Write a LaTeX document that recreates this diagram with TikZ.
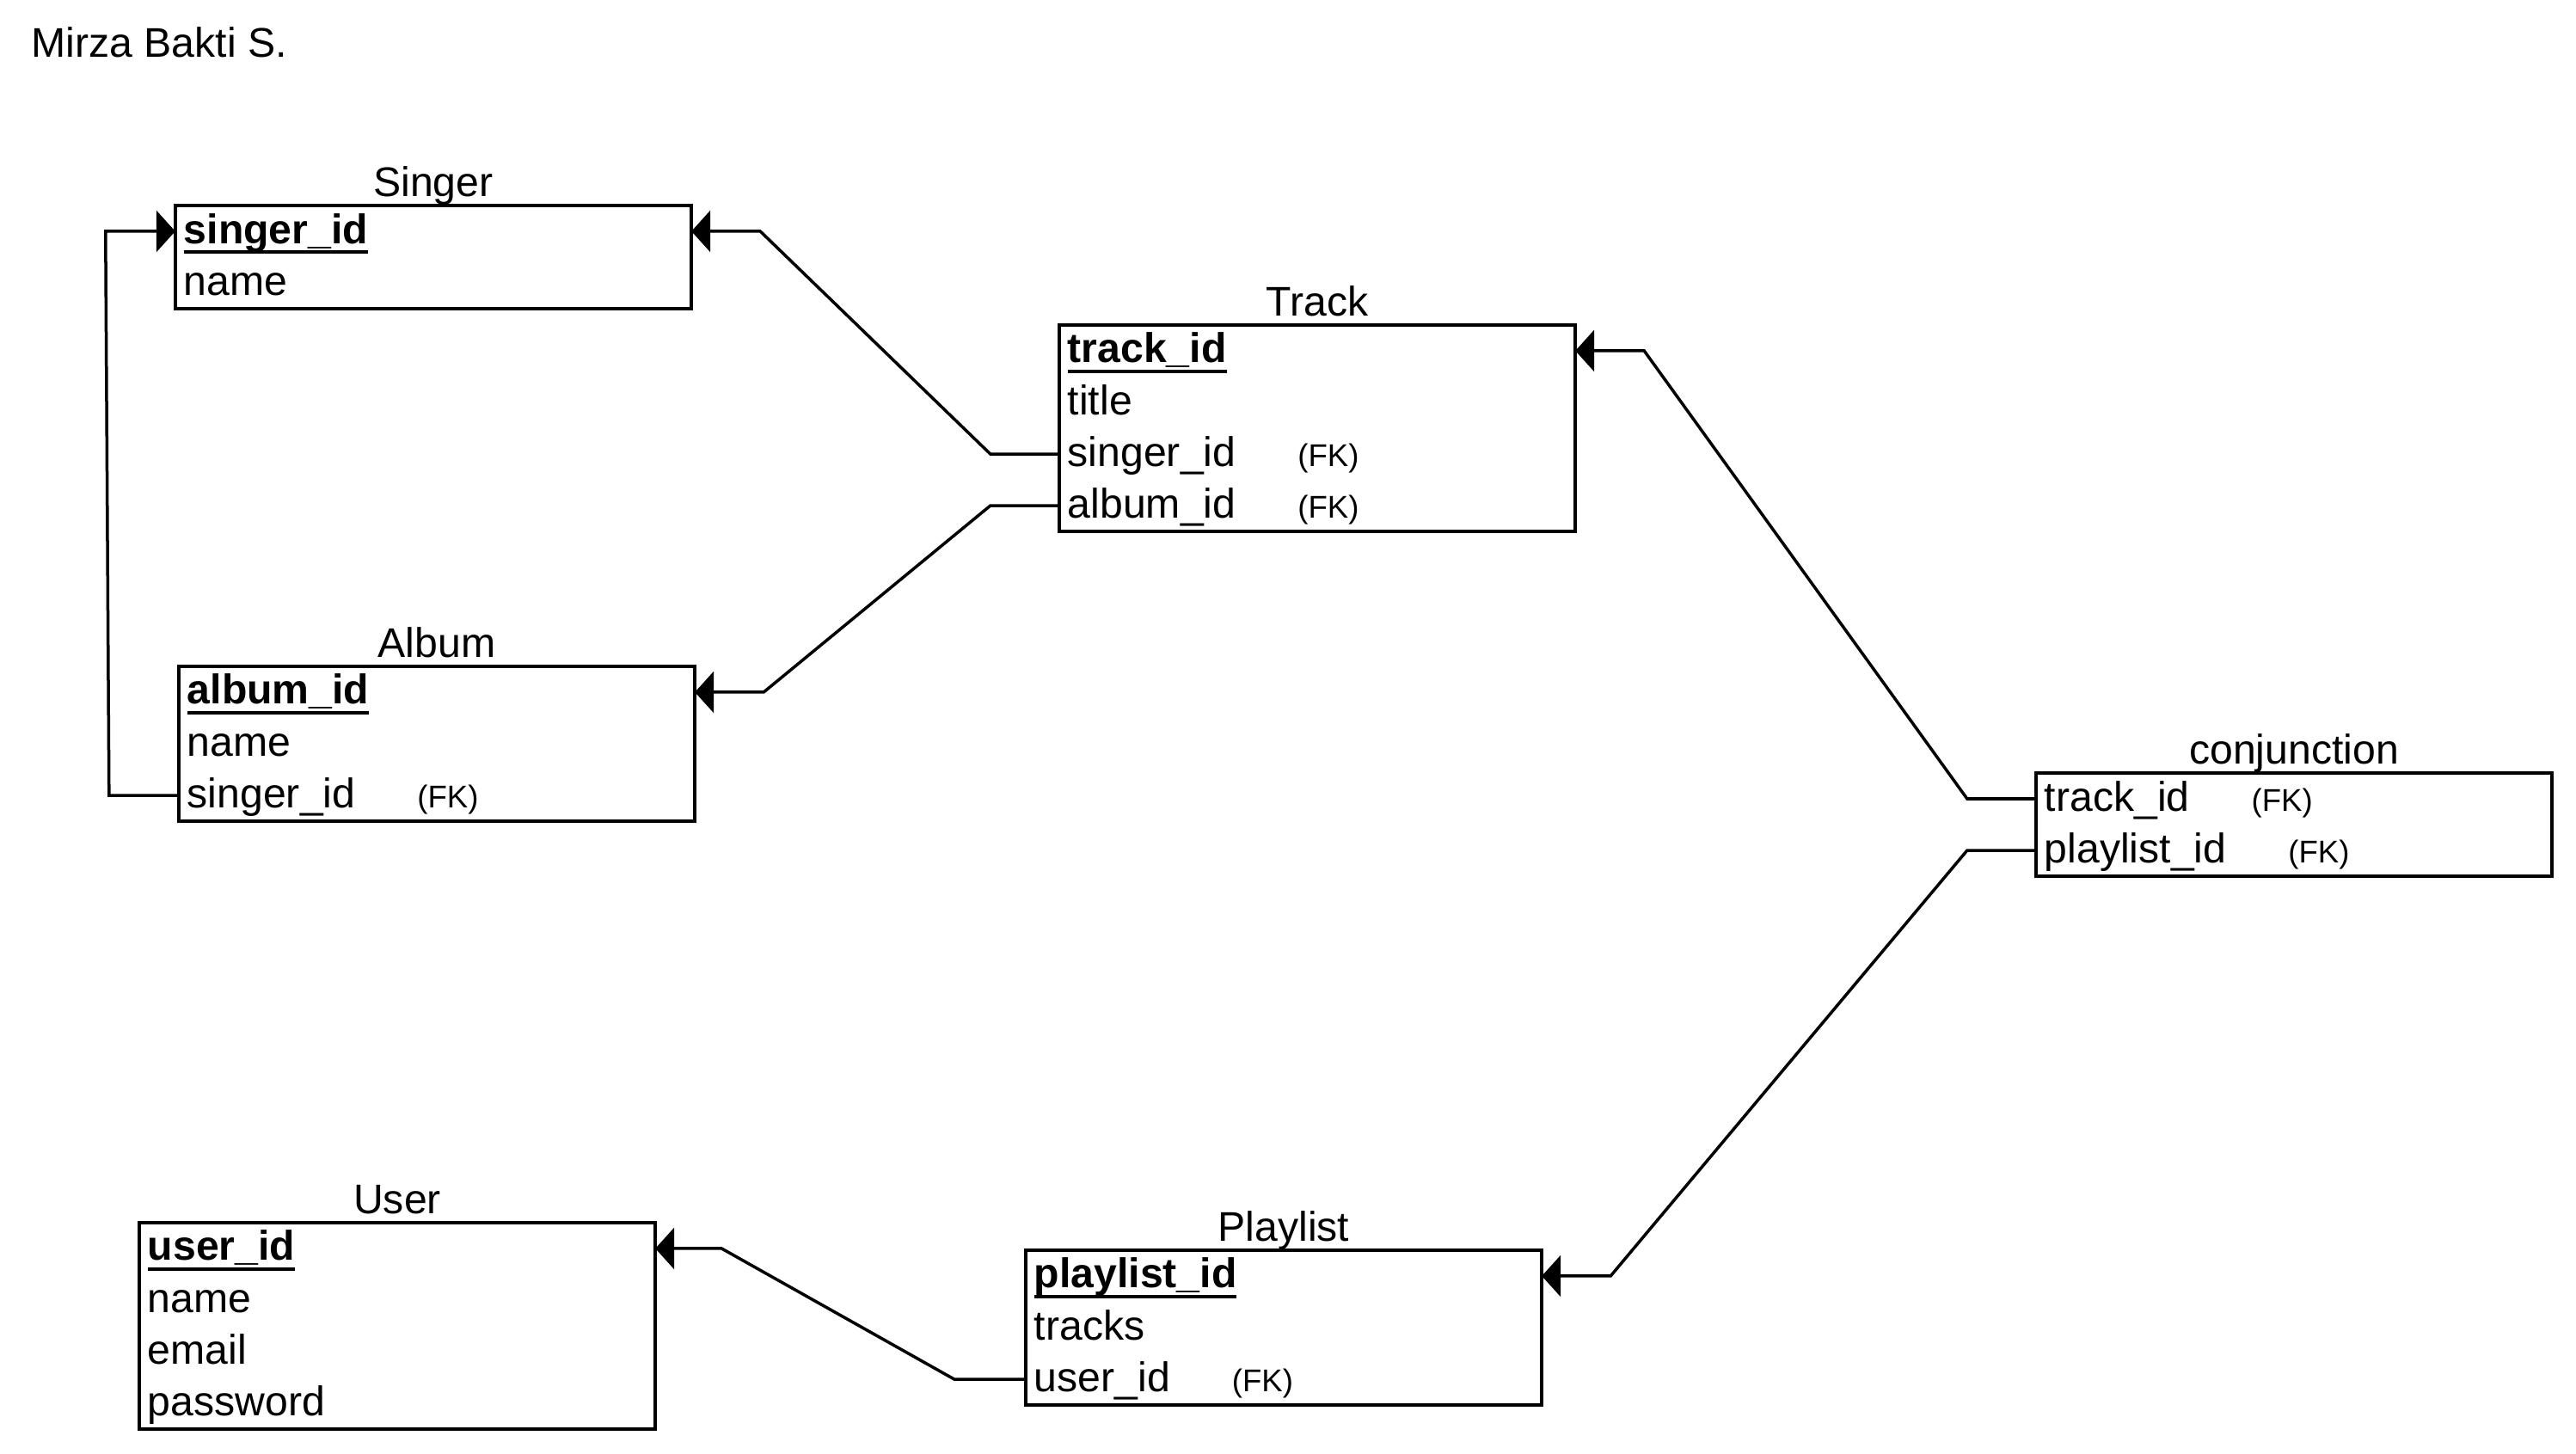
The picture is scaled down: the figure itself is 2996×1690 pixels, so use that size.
\documentclass[tikz,border=0pt]{standalone}
\usepackage{fontspec}
\setmainfont{Liberation Sans}
\usetikzlibrary{positioning,arrows.meta}

% primary key: bold and underlined
\newcommand\pkey[1]{\setbox0\hbox{\bfseries #1}\rlap{\rule[-0.24em]{\wd0}{0.08em}}\box0}
% foreign key mark
\newcommand\fkmark{\hspace{0.72cm}{\fontsize{10.4pt}{12pt}\selectfont(FK)}}

\tikzset{
    table/.style={draw, line width=0.04cm, minimum width=6cm, inner sep=0pt, outer sep=0pt},
    tabletitle/.style={anchor=base, inner sep=0pt},
    field/.style={minimum width=6cm, minimum height=0.6cm, text width=5.8cm, align=left,
        inner xsep=0.1cm, inner ysep=0pt, outer sep=0pt, text height=0.36cm, text depth=0.08cm},
    fk/.style={line width=0.035cm, -{Triangle[length=0.22cm, width=0.48cm]}}
}

\begin{document}
\begin{tikzpicture}[x=0.01cm, y=-0.01cm, font=\fontsize{13.7pt}{16pt}\selectfont]
    \useasboundingbox (0,0) rectangle (2996,1690);

    \node[anchor=base west, inner sep=0pt] (author) at (36,66) {Mirza Bakti S.};

    % Singer
    \node[table, minimum height=1.2cm] (singer) at (504,299) {};
    \node[tabletitle] (singer-title) at ([yshift=0.1cm]singer.north) {Singer};
    \node[field, below=0pt of singer.north] (singer-id) {\pkey{singer\_id}};
    \node[field, below=0pt of singer-id] (singer-name) {name};

    % Album
    \node[table, minimum height=1.8cm] (album) at (508,865) {};
    \node[tabletitle] (album-title) at ([yshift=0.1cm]album.north) {Album};
    \node[field, below=0pt of album.north] (album-id) {\pkey{album\_id}};
    \node[field, below=0pt of album-id] (album-name) {name};
    \node[field, below=0pt of album-name] (album-singer) {singer\_id\fkmark};

    % Track
    \node[table, minimum height=2.4cm] (track) at (1532,498) {};
    \node[tabletitle] (track-title) at ([yshift=0.1cm]track.north) {Track};
    \node[field, below=0pt of track.north] (track-id) {\pkey{track\_id}};
    \node[field, below=0pt of track-id] (track-title) {title};
    \node[field, below=0pt of track-title] (track-singer) {singer\_id\fkmark};
    \node[field, below=0pt of track-singer] (track-album) {album\_id\fkmark};

    % conjunction
    \node[table, minimum height=1.2cm] (conj) at (2668,959) {};
    \node[tabletitle] (conj-title) at ([yshift=0.1cm]conj.north) {conjunction};
    \node[field, below=0pt of conj.north] (conj-track) {track\_id\fkmark};
    \node[field, below=0pt of conj-track] (conj-playlist) {playlist\_id\fkmark};

    % User
    \node[table, minimum height=2.4cm] (user) at (462,1542) {};
    \node[tabletitle] (user-title) at ([yshift=0.1cm]user.north) {User};
    \node[field, below=0pt of user.north] (user-id) {\pkey{user\_id}};
    \node[field, below=0pt of user-id] (user-name) {name};
    \node[field, below=0pt of user-name] (user-email) {email};
    \node[field, below=0pt of user-email] (user-password) {password};

    % Playlist
    \node[table, minimum height=1.8cm] (playlist) at (1493,1544) {};
    \node[tabletitle] (playlist-title) at ([yshift=0.1cm]playlist.north) {Playlist};
    \node[field, below=0pt of playlist.north] (playlist-id) {\pkey{playlist\_id}};
    \node[field, below=0pt of playlist-id] (playlist-tracks) {tracks};
    \node[field, below=0pt of playlist-tracks] (playlist-user) {user\_id\fkmark};

    % Relations
    \draw[fk] (track-singer.west) -- ++(-80,0) -- ([xshift=0.8cm]singer-id.east) -- (singer-id.east);
    \draw[fk] (track-album.west) -- ++(-80,0) -- ([xshift=0.8cm]album-id.east) -- (album-id.east);
    \draw[fk] (album-singer.west) -- ++(-81,0) -- ([xshift=-0.81cm]singer-id.west) -- (singer-id.west);
    \draw[fk] (conj-track.west) -- ++(-80,0) -- ([xshift=0.8cm]track-id.east) -- (track-id.east);
    \draw[fk] (conj-playlist.west) -- ++(-80,0) -- ([xshift=0.8cm]playlist-id.east) -- (playlist-id.east);
    \draw[fk] (playlist-user.west) -- ++(-83,0) -- ([xshift=0.77cm]user-id.east) -- (user-id.east);
\end{tikzpicture}
\end{document}
